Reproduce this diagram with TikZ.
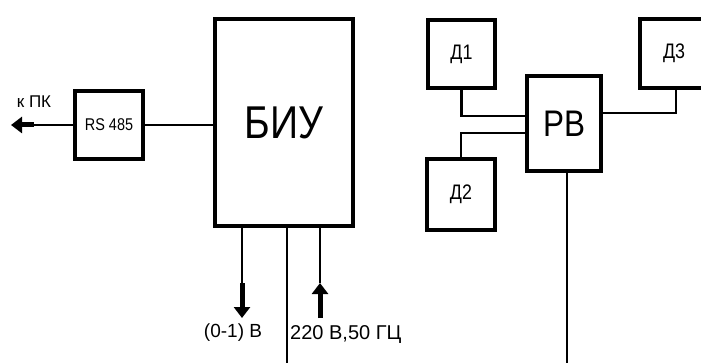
\documentclass[tikz,border=0pt]{standalone}
\usepackage{fontspec}
\setmainfont{Liberation Sans}[FakeStretch=0.85]
\newfontfamily\wideface{Liberation Sans}
\usetikzlibrary{arrows.meta,calc}
\begin{document}
\begin{tikzpicture}[x=1pt,y=-1pt,
  blk/.style={draw,line width=4pt,inner sep=0pt,fill=white},
  wire/.style={line width=2.2pt},
  lbl/.style={inner sep=0pt},
  fat/.style={line width=5pt,-{Triangle[length=11pt,width=16pt]}}]
\useasboundingbox (0,0) rectangle (701,363);
\begin{scope}
\clip (0,0) rectangle (701,363);
\node[blk,minimum width=68pt,minimum height=68pt,font=\fontsize{17}{17}\selectfont] (RS) at (109,125) {RS 485};
\node[blk,minimum width=138pt,minimum height=207pt,font=\fontsize{46}{46}\selectfont] (BIU) at (284,122.5) {БИУ};
\node[blk,minimum width=67pt,minimum height=68pt,font=\fontsize{21}{21}\selectfont] (D1) at (461.5,54) {Д1};
\node[blk,minimum width=68pt,minimum height=71pt,font=\fontsize{21}{21}\selectfont] (D2) at (461,194.5) {Д2};
\node[blk,minimum width=74pt,minimum height=95pt,font=\fontsize{37}{37}\selectfont] (RB) at (564,123.5) {РВ};
\node[blk,minimum width=68pt,minimum height=69pt,font=\fontsize{21}{21}\selectfont] (D3) at (674,53.5) {Д3};

\coordinate (pk) at (34,125);
\coordinate (pktip) at (11,125);
\coordinate (outA) at (242,283);
\coordinate (outAtip) at (242,318);
\coordinate (inB) at (320,318);
\coordinate (inBtip) at (320,283);
\coordinate (midC) at (287,363);
\coordinate (rbC) at (567,363);

\draw[wire] (RS.east) -- (BIU.west |- RS.east);
\draw[wire] (RS.west) -- (pk);
\draw[fat] (pk) -- (pktip);
\node[lbl,font=\wideface\fontsize{17}{17}\selectfont] (kpk) at (34,102) {к ПК};

\draw[wire] (BIU.south -| outA) -- (outA);
\draw[fat] (outA) -- (outAtip);
\draw[wire] (BIU.south -| midC) -- (midC);
\draw[wire] (BIU.south -| inBtip) -- (inBtip);
\draw[fat] (inB) -- (inBtip);
\node[lbl,font=\wideface\fontsize{19}{19}\selectfont] (l1) at (233,333) {(0-1) В};
\node[lbl,font=\wideface\fontsize{20}{20}\selectfont,anchor=west] (l2) at (290,335) {220 В,50 ГЦ};

\draw[wire] (D1.south) |- ($(RB.west)+(0,-7.5)$);
\draw[wire] ($(RB.west)+(0,9.5)$) -| (D2.north);
\draw[wire] ($(RB.east)+(0,-10.5)$) -| ($(D3.south)+(2,0)$);
\draw[wire] ($(RB.south)+(3,0)$) -- (rbC);
\end{scope}
\end{tikzpicture}
\end{document}
